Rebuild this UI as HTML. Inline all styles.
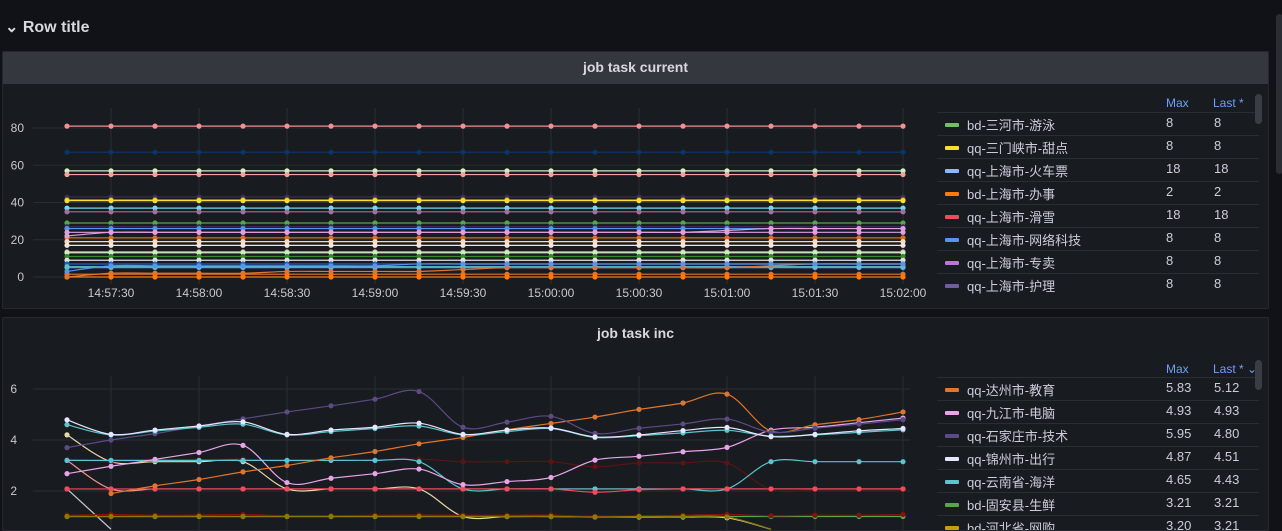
<!DOCTYPE html>
<html><head><meta charset="utf-8">
<style>
*{box-sizing:border-box;margin:0;padding:0}
html,body{width:1282px;height:531px;overflow:hidden}
body{background:#111217;font-family:"Liberation Sans","Noto Sans CJK SC",sans-serif;color:#ccccdc;position:relative}
.row-title{position:absolute;left:5px;top:17px;font-size:16px;font-weight:bold;color:#d8d9e0}
.panel{position:absolute;left:2px;width:1267px;background:#181b1f;border:1px solid #25282e;border-radius:2px;overflow:hidden}
.ph{position:absolute;left:0;right:0;top:0;height:32px;text-align:center;font-size:14px;font-weight:bold;color:#d8d9e0;line-height:30px}
.legend{position:absolute;left:936px;width:325px;font-size:13px;overflow:hidden}
.lh{position:absolute;top:0;height:22px;color:#6e9fff;font-size:12px}
.lrow{position:absolute;left:0;width:322px;height:23px;border-top:1px solid #2a2d33;overflow:hidden}
.sw{position:absolute;left:8px;top:10px;width:14px;height:4px;border-radius:1px}
.ln{position:absolute;left:30px;top:2px;white-space:nowrap}
.lm{position:absolute;left:229px;top:2px}
.ll{position:absolute;left:277px;top:2px}
.sb{position:absolute;width:7px;border-radius:4px;background:#3a3d44}
svg text{font-family:"Liberation Sans",sans-serif;font-size:12px;fill:#c7c8d0}
</style></head><body>
<div class="row-title">⌄ Row title</div>
<div class="sb" style="left:1276px;top:14px;height:160px;background:#2a2d33"></div>

<div class="panel" style="top:51px;height:258px">
  <div class="ph" style="background:#34373e">job task current</div>
  <div class="legend" style="top:42px;height:210px;left:934px">
    <div class="lh" style="left:229px;top:2px">Max</div>
    <div class="lh" style="left:276px;top:2px">Last *</div>
    <div id="leg1"></div>
    <div class="sb" style="left:318px;top:0;height:30px"></div>
  </div>
</div>

<div class="panel" style="top:317px;height:214px">
  <div class="ph">job task inc</div>
  <div class="legend" style="top:42px;height:170px;left:934px">
    <div class="lh" style="left:229px;top:2px">Max</div>
    <div class="lh" style="left:276px;top:2px">Last * ⌄</div>
    <div id="leg2"></div>
    <div class="sb" style="left:318px;top:0;height:30px"></div>
  </div>
</div>

<svg id="chart" width="1282" height="531" style="position:absolute;left:0;top:0">
  <defs>
    <clipPath id="c1"><rect x="33" y="100" width="875" height="185"/></clipPath>
    <clipPath id="c2"><rect x="33" y="360" width="880" height="171"/></clipPath>
  </defs>
  <g id="g1"></g><g id="g2"></g>
</svg>

<script>
// ---- data: chart 1 (job task current) ----
const tickLabels1 = ["14:57:30","14:58:00","14:58:30","14:59:00","14:59:30","15:00:00","15:00:30","15:01:00","15:01:30","15:02:00"];
const tickSeconds1 = [15,45,75,105,135,165,195,225,255,285];
const yTicks1 = [0,20,40,60,80];
const pointSeconds = [0,15,30,45,60,75,90,105,120,135,150,165,180,195,210,225,240,255,270,285];
const series1Colors = ["#f29191","#0b3566","#c8f2c2","#f2a0a0","#3f2b5b","#8a8a2a","#fade2a","#73d8e8","#a16fa1","#56a64b","#3f2b5b","#5794f2","#e0a0e0","#d9701a","#f9d9c0","#f0e6dc","#d6a4a4","#c8f2c2","#37872d","#e0e0e0","#1f60c4","#5794f2","#5dc4cd","#e0752d","#ff780a"];
const series1Base = [81,67,57,55,43,41.5,41,37,35,29,27,26,24,21,19,17,13.5,13,11,9,7,5,5.5,1.5,0];
const pinkRise = [22,24,24,24,24,24,24,24,24,24,24,24,24,24,24,25,26,26,26,26];
const orangeSteps = [0,2,2,2,2,3,3,3,3,4,5,5,5,5,5,5,6,7,7,7];
const blueSteps = [3,6,6,6,6,6,6,6,7,7,7,7,7,7,7,7,7,7,7,7];

// ---- data: chart 2 (job task inc) ----
const yTicks2 = [2,4,6];
const incOrange = [null,1.9,2.2,2.45,2.75,3.0,3.3,3.55,3.85,4.1,4.4,4.65,4.9,5.2,5.45,5.8,4.35,4.6,4.8,5.1];
const incPink = [2.68,2.97,3.24,3.51,3.79,2.33,2.5,2.68,2.86,2.25,2.37,2.53,3.21,3.36,3.54,3.71,4.39,4.5,4.68,4.86];
const incPurple = [3.7,4.0,4.25,4.55,4.83,5.1,5.34,5.6,5.9,4.5,4.7,4.93,4.26,4.46,4.63,4.82,4.3,4.46,4.62,4.8];
const incWhite = [4.79,4.22,4.39,4.55,4.71,4.22,4.39,4.5,4.66,4.22,4.39,4.47,4.12,4.2,4.37,4.49,4.13,4.22,4.36,4.45];
const incCyan = [4.6,4.2,4.35,4.5,4.62,4.2,4.33,4.45,4.55,4.2,4.33,4.45,4.1,4.17,4.28,4.38,4.15,4.2,4.3,4.4];
const incTeal = [3.2,3.2,3.2,3.2,3.2,3.2,3.2,3.2,3.15,2.08,2.08,2.08,2.08,2.08,2.08,2.08,3.15,3.15,3.15,3.15];
const incGreen = [1.0,1.0,1.0,1.0,1.0,1.0,1.0,1.0,1.0,1.0,1.0,1.0,1.0,1.0,1.0,1.0,1.0,1.0,1.0,1.0];
const incDarkRed = [3.25,3.15,3.2,3.22,3.25,3.15,3.2,3.22,3.25,3.15,3.15,3.15,2.95,3.1,3.1,3.1,2.05,2.05,2.05,2.05];
const incRed = [2.08,2.08,2.08,2.08,2.08,2.08,2.08,2.08,2.08,2.08,2.08,2.08,1.95,2.05,2.08,2.08,2.08,2.08,2.08,2.08];
const incBeige = [4.2,3.15,3.15,3.15,3.15,2.08,2.08,2.08,2.08,1.0,1.0,1.0,0.98,0.98,0.98,0.95,0.5,null,null,null];
const incSalmon = [3.2,2.08,2.08,2.08,2.08,2.08,2.08,2.08,2.08,2.08,2.08,2.08,2.08,2.08,2.08,2.08,2.08,2.08,2.08,2.08];
const incGrey = [2.08,0.5,null,null,null,null,null,null,null,null,null,null,null,null,null,null,null,null,null,null];
const incDarkRed2 = [1.05,1.08,1.05,1.06,1.08,1.03,1.03,1.05,1.06,1.05,1.05,1.06,1.0,1.02,1.05,1.08,1.03,1.05,1.05,1.08];
const incOlive = [1.0,1.0,1.0,1.0,1.0,1.0,1.0,1.0,1.0,1.0,1.0,1.0,0.98,1.0,1.0,0.98,0.5,null,null,null];

// ---- legends ----
const leg1Names = ["bd-三河市-游泳","qq-三门峡市-甜点","qq-上海市-火车票","bd-上海市-办事","qq-上海市-滑雪","qq-上海市-网络科技","qq-上海市-专卖","qq-上海市-护理"];
const leg1Max = ["8","8","18","2","18","8","8","8"];
const leg1Last = ["8","8","18","2","18","8","8","8"];
const leg1Colors = ["#73bf69","#fade2a","#8ab8ff","#ff780a","#f2495c","#5794f2","#b877d9","#705da0"];
const leg2Names = ["qq-达州市-教育","qq-九江市-电脑","qq-石家庄市-技术","qq-锦州市-出行","qq-云南省-海洋","bd-固安县-生鲜","bd-河北省-网购"];
const leg2Max = ["5.83","4.93","5.95","4.87","4.65","3.21","3.20"];
const leg2Last = ["5.12","4.93","4.80","4.51","4.43","3.21","3.21"];
const leg2Colors = ["#e0752d","#e8a4e8","#5c4a85","#e6e6ff","#5dc4cd","#56a64b","#c4a000"];

const NS="http://www.w3.org/2000/svg";
const xS = t => 67 + t*44/15;
const y1 = v => 277 - v*1.8625;
const y2 = v => 491 - (v-2)*25.5;
function mk(tag, attrs, parent){const e=document.createElementNS(NS,tag);for(const k in attrs)e.setAttribute(k,attrs[k]);parent.appendChild(e);return e;}

function smoothPath(pts){
  let d="M"+pts[0][0]+","+pts[0][1];
  for(let i=0;i<pts.length-1;i++){
    const p0=pts[i-1]||pts[i],p1=pts[i],p2=pts[i+1],p3=pts[i+2]||p2;
    const c1x=p1[0]+(p2[0]-p0[0])/6,c1y=p1[1]+(p2[1]-p0[1])/6;
    const c2x=p2[0]-(p3[0]-p1[0])/6,c2y=p2[1]-(p3[1]-p1[1])/6;
    d+=` C${c1x},${c1y} ${c2x},${c2y} ${p2[0]},${p2[1]}`;
  }
  return d;
}

function drawSeries(g, vals, color, yf, name, smooth){
  const pts=[];
  vals.forEach((v,i)=>{if(v!==null)pts.push([xS(pointSeconds[i]),yf(v)]);});
  const p=mk("path",{d:smooth?smoothPath(pts):"M"+pts.map(p=>p.join(",")).join(" L"),fill:"none",stroke:color,"stroke-width":1.2},g);
  
  
  pts.forEach(q=>{
    if(q[1]>527) return;
    const c=mk("circle",{cx:q[0],cy:q[1],r:2.6,fill:color},g);
    
    
  });
}

// chart 1
const g1=document.getElementById("g1");
tickSeconds1.forEach((t,i)=>{
  const l=mk("line",{x1:xS(t),x2:xS(t),y1:108,y2:284,stroke:"#2a2d33"},g1);
  
  
  const tx=mk("text",{x:xS(t),y:297,"text-anchor":"middle"},g1);tx.textContent=tickLabels1[i];
  
  
});
yTicks1.forEach(v=>{
  const l=mk("line",{x1:33,x2:905,y1:y1(v),y2:y1(v),stroke:"#2a2d33"},g1);
  
  
  const tx=mk("text",{x:24,y:y1(v)+4,"text-anchor":"end"},g1);tx.textContent=v;
  
  
});
const gc1=mk("g",{"clip-path":"url(#c1)"},g1);
series1Base.forEach((b,k)=>{
  drawSeries(gc1, pointSeconds.map(()=>b), series1Colors[k], y1, 'current-series-'+k, false);
});
drawSeries(gc1, pinkRise, "#e0a0e0", y1, 'current-pink', true);
drawSeries(gc1, orangeSteps, "#e0752d", y1, 'current-orange', true);
drawSeries(gc1, blueSteps, "#5794f2", y1, 'current-blue', true);

// chart 2
const g2=document.getElementById("g2");
tickSeconds1.forEach(t=>{
  const l=mk("line",{x1:xS(t),x2:xS(t),y1:376,y2:530,stroke:"#2a2d33"},g2);
  
  
});
yTicks2.forEach(v=>{
  const l=mk("line",{x1:33,x2:910,y1:y2(v),y2:y2(v),stroke:"#2a2d33"},g2);
  
  
  const tx=mk("text",{x:17,y:y2(v)+4,"text-anchor":"end"},g2);tx.textContent=v;
  
  
});
const gc2=mk("g",{"clip-path":"url(#c2)"},g2);
[[incGrey,"#c8c8d0","grey"],[incSalmon,"#f29191","salmon"],[incBeige,"#e8d8a8","beige"],[incGreen,"#56a64b","green"],[incDarkRed2,"#8a1010","darkred2"],[incOlive,"#8a7a0a","olive"],[incDarkRed,"#5a1414","darkred"],[incTeal,"#5dc4cd","teal"],[incRed,"#f2495c","red"],[incPink,"#e8a4e8","pink"],[incOrange,"#e0752d","orange"],[incPurple,"#5c4a85","purple"],[incCyan,"#5dc4cd","cyan"],[incWhite,"#e6e6ff","white"]].forEach(s=>{
  drawSeries(gc2, s[0], s[1], y2, 'inc-'+s[2], true);
});

// legends
function buildLegend(id, names, maxs, lasts, colors, top0, maxH){
  const host=document.getElementById(id);
  names.forEach((n,i)=>{
    const top=top0+i*23;
    const r=document.createElement("div");r.className="lrow";r.style.top=top+"px";
    r.style.height=Math.min(23, maxH-top)+"px";
    
    
    r.innerHTML=`<div class="sw" style="background:${colors[i]}"></div><div class="ln">${n}</div><div class="lm">${maxs[i]}</div><div class="ll">${lasts[i]}</div>`;
    host.appendChild(r);
  });
}
buildLegend("leg1",leg1Names,leg1Max,leg1Last,leg1Colors,18,210);
buildLegend("leg2",leg2Names,leg2Max,leg2Last,leg2Colors,17,170);
</script>
</body></html>
